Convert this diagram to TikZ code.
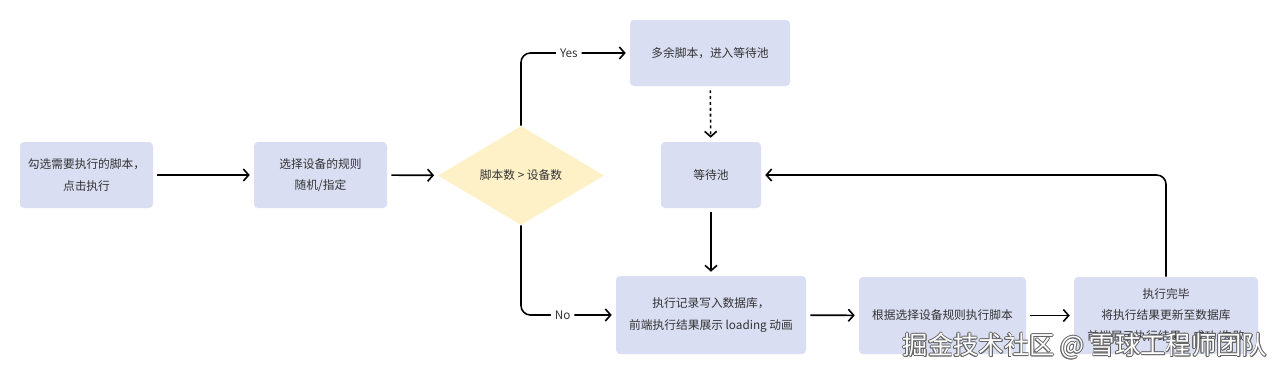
\documentclass[tikz,border=0pt]{standalone}
\usepackage{fontspec}
\setmainfont{Noto Sans CJK SC}
\usetikzlibrary{arrows.meta,shapes.geometric,calc}
\definecolor{boxfill}{RGB}{218,222,243}
\definecolor{diafill}{RGB}{254,241,199}
\definecolor{txt}{RGB}{51,51,51}
\definecolor{wmline}{RGB}{100,100,100}
\begin{document}
\begin{tikzpicture}[x=0.75pt,y=-0.75pt,
  box/.style={fill=boxfill, draw=none, rounded corners=3pt, align=center, text=txt,
    font=\fontsize{8.8}{16}\selectfont, inner sep=0pt},
  dia/.style={shape=diamond, fill=diafill, draw=none, inner sep=0pt, text=txt,
    font=\fontsize{8.8}{16}\selectfont},
  conn/.style={draw=black, line width=1.2pt, rounded corners=7pt,
    -{Straight Barb[length=4pt,width=9pt,line width=1.2pt]}, shorten >=3pt, shorten <=3pt},
  lbl/.style={fill=white, text=txt, font=\fontsize{8.8}{10}\selectfont, inner sep=3pt},
  wm/.style={font=\fontsize{19}{23}\selectfont, inner sep=0pt}
]
\useasboundingbox (0,0) rectangle (1280,375);
\fill[white] (0,0) rectangle (1280,375);

\node[box, minimum width=99.75pt, minimum height=49.5pt] (b1) at (86.5,175) {勾选需要执行的脚本，\\点击执行};
\node[box, minimum width=99.75pt, minimum height=49.5pt] (b2) at (320.5,175) {选择设备的规则\\随机/指定};
\node[dia, minimum width=124.5pt, minimum height=74.25pt] (d) at (521,175.5) {脚本数 > 设备数};
\node[box, minimum width=120pt, minimum height=49.5pt] (extra) at (710,53) {多余脚本，进入等待池};
\node[box, minimum width=75pt, minimum height=49.5pt] (pool) at (711,175) {等待池};
\node[box, minimum width=142.5pt, minimum height=58.5pt] (rec) at (711,315) {执行记录写入数据库，\\前端执行结果展示 loading 动画};
\node[box, minimum width=125.25pt, minimum height=57.75pt] (run) at (942.5,315.5) {根据选择设备规则执行脚本};
\node[box, minimum width=138pt, minimum height=57.75pt] (done) at (1166,315.5) {执行完毕\\将执行结果更新至数据库\\前端展示执行结果：成功/失败};

\draw[conn] (b1) -- (b2);
\draw[conn] (b2) -- (d);
\draw[conn, shorten <=0pt] (d.north) |- node[lbl, pos=0.72] {Yes} (extra.west);
\draw[conn, shorten <=0pt] (d.south) |- node[lbl, pos=0.72] {No} (rec.west);
\draw[conn, dash pattern=on 2.2pt off 2.2pt] (extra) -- (pool);
\draw[conn] (pool) -- (rec);
\draw[conn] (rec) -- (run);
\draw[conn] (run) -- (done);
\draw[conn, shorten <=0pt] (done.north) |- (pool.east);

\foreach \dx/\dy [count=\i] in {-1/0,1/0,0/-1,0/1,-0.7/-0.7,0.7/0.7,-0.7/0.7,0.7/-0.7}{
  \node[wm, text=wmline] (wmo\i) at ($(1085,346)+(\dx*0.7,\dy*0.7)$) {掘金技术社区 @ 雪球工程师团队};
}
\node[wm, text=white] (wm) at (1085,346) {掘金技术社区 @ 雪球工程师团队};
\end{tikzpicture}
\end{document}
